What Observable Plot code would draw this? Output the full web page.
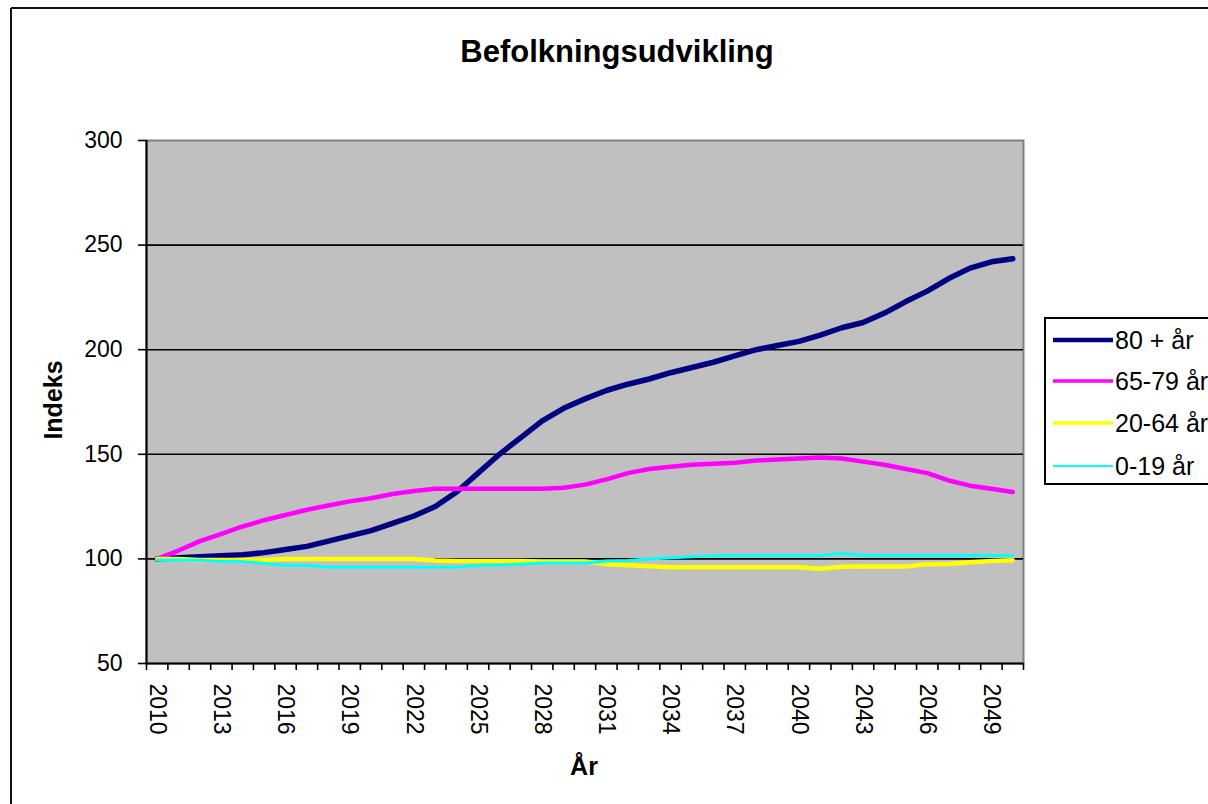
<!DOCTYPE html>
<html>
<head>
<meta charset="utf-8">
<script src="https://cdn.jsdelivr.net/npm/d3@7"></script>
<script src="https://cdn.jsdelivr.net/npm/@observablehq/plot@0.6"></script>
<style>
  body { margin: 0; background: #fff; }
  #wrap { position: relative; width: 1208px; height: 804px; overflow: hidden; font-family: "Liberation Sans", Arial, sans-serif; }
  #chart { position: absolute; left: 0; top: 0; }
  #overlay { position: absolute; left: 0; top: 0; pointer-events: none; }
</style>
</head>
<body>
<div id="wrap">
  <div id="chart"></div>
  <svg id="overlay" width="1208" height="804" font-family="Liberation Sans, Arial, sans-serif">
    <line x1="11" y1="8" x2="11" y2="804" stroke="#111" stroke-width="2"/>
    <line x1="11" y1="8" x2="1208" y2="8" stroke="#111" stroke-width="2"/>
    <text x="617" y="62" text-anchor="middle" font-size="31" font-weight="bold">Befolkningsudvikling</text>
    <text transform="translate(62,400) rotate(-90)" text-anchor="middle" font-size="25" font-weight="bold">Indeks</text>
    <text x="584" y="775" text-anchor="middle" font-size="25" font-weight="bold">År</text>
    <g id="legend"></g>
  </svg>
</div>
<script>
// Categories (years)
const years = [2010,2011,2012,2013,2014,2015,2016,2017,2018,2019,2020,2021,2022,2023,2024,2025,2026,2027,2028,2029,2030,2031,2032,2033,2034,2035,2036,2037,2038,2039,2040,2041,2042,2043,2044,2045,2046,2047,2048,2049,2050];
const yearTickLabels = [2010,2013,2016,2019,2022,2025,2028,2031,2034,2037,2040,2043,2046,2049];
const indexTicks = [50,100,150,200,250,300];
const gridTicks = [100,150,200,250];

// Series values (index, 2010 = 100)
const s80plus = [100,100.5,101,101.5,102,103,104.5,106,108.5,111,113.5,117,120.5,125,132,141,150,158,166,172,176.5,180.5,183.5,186,189,191.5,194,197,200,202,204,207,210.5,213,217.5,223,228,234,239,242,243.5];
const s65to79 = [100,104,108.5,112,115.5,118.5,121,123.5,125.5,127.5,129,131,132.5,133.5,133.5,133.5,133.5,133.5,133.5,134,135.5,138,141,143,144,145,145.5,146,147,147.5,148,148.5,148,146.5,145,143,141,137.5,135,133.5,132];
const s20to64 = [100,100,99.5,99.5,99.5,99.5,100,100,100,100,100,100,100,99.2,99,99,99,99,98.8,98.8,98.8,97.5,97,96.5,96,96,96,96,96,96,96,95.3,96.3,96.4,96.4,96.4,97.5,97.6,98.4,99,99.3];
const s0to19 = [99.5,99.5,99.3,98.8,98.7,97.8,97,97,96,96,96,96,96,96,96,97,97,97.5,98,98,98,99,99.2,100,100.5,101,101.5,101.6,101.6,101.6,101.6,101.6,102.6,101.8,101.6,101.6,101.6,101.6,101.6,101.6,101.6];

const seriesNames = ["80 + år","65-79 år","20-64 år","0-19 år"];
const seriesColors = ["#000080","#FF00FF","#FFFF00","#00FFFF"];
const seriesWidths = [5.5,4.5,4.5,3];
const seriesValues = [s80plus, s65to79, s20to64, s0to19];

const tables = seriesValues.map((vals, i) => years.map((yr, j) => ({year: yr, value: vals[j], series: seriesNames[i]})));
const boundaries = years.map(y => y - 0.5).concat([years[years.length - 1] + 0.5]);

const plot = Plot.plot({
  width: 1208,
  height: 804,
  marginLeft: 146,
  marginRight: 185,
  marginTop: 140,
  marginBottom: 141,
  style: { fontFamily: "Liberation Sans, Arial, sans-serif", fontSize: "23px", color: "#000", background: "transparent" },
  x: { type: "linear", domain: [boundaries[0], boundaries[boundaries.length - 1]] },
  y: { type: "linear", domain: [50, 300] },
  marks: [
    Plot.frame({ fill: "#C0C0C0", stroke: "#808080", strokeWidth: 2 }),
    Plot.gridY(gridTicks, { stroke: "#000", strokeOpacity: 1, strokeWidth: 1.6 }),
    Plot.ruleX([boundaries[0]], { stroke: "#000", strokeWidth: 2 }),
    Plot.ruleY([50], { stroke: "#000", strokeWidth: 2 }),
    Plot.axisY(indexTicks, { tickSize: 8, tickPadding: 16, fontSize: 23, label: null, stroke: "#000", strokeWidth: 1.6 }),
    Plot.axisX(boundaries, { tickSize: 7, tickFormat: () => "", label: null, stroke: "#000", strokeWidth: 1.6 }),
    Plot.axisX(yearTickLabels, { tickSize: 0, tickPadding: 20, rotate: 90, textAnchor: "start", lineAnchor: "middle", fontSize: 23, tickFormat: d => String(d), label: null }),
    ...tables.map((t, i) => Plot.line(t, { x: "year", y: "value", stroke: seriesColors[i], strokeWidth: seriesWidths[i], strokeLinejoin: "round", strokeLinecap: "round" }))
  ]
});
document.getElementById("chart").appendChild(plot);

// Legend
const legend = d3.select("#legend");
legend.append("rect").attr("x", 1045).attr("y", 318).attr("width", 200).attr("height", 166).attr("fill", "#fff").attr("stroke", "#000").attr("stroke-width", 2);
const rowY = [340, 381, 423, 466];
seriesNames.forEach((name, i) => {
  legend.append("line").attr("x1", 1053).attr("x2", 1113).attr("y1", rowY[i]).attr("y2", rowY[i])
    .attr("stroke", seriesColors[i]).attr("stroke-width", seriesWidths[i] - 1);
  legend.append("text").attr("x", 1115).attr("y", rowY[i] + 9).attr("font-size", 25).text(name);
});
</script>
</body>
</html>
